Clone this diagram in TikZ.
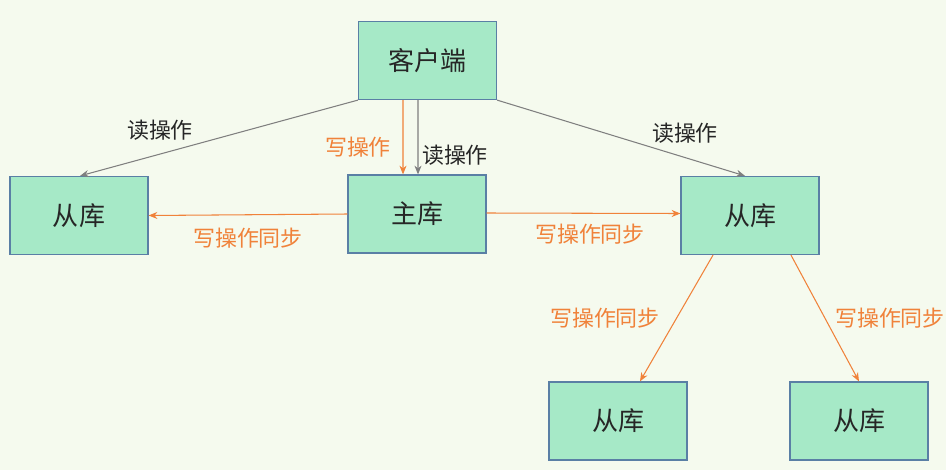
\documentclass[tikz,border=0pt]{standalone}
\usepackage{fontspec}
\setmainfont{Noto Sans CJK SC}
\usetikzlibrary{arrows.meta}
\definecolor{bgcol}{HTML}{F5FAEE}
\definecolor{boxfill}{HTML}{A6E9C7}
\definecolor{boxline}{HTML}{5A7FA5}
\definecolor{syncol}{HTML}{F0823A}
\definecolor{readcol}{HTML}{7F7F7F}
\begin{document}
\begin{tikzpicture}[x=0.02cm,y=-0.02cm,
  db/.style={draw=boxline,fill=boxfill,line width=0.7pt,minimum width=2.76cm,
             minimum height=1.56cm,inner sep=0pt,font=\fontsize{14.8}{16}\selectfont,
             text=black!85},
  rd/.style={draw=readcol,line width=0.6pt,-{Stealth[length=5pt,width=4pt]}},
  wr/.style={draw=syncol,line width=0.6pt,-{Stealth[length=5pt,width=4pt]}},
  rdlab/.style={font=\fontsize{12.5}{14}\selectfont,text=black!85},
  wrlab/.style={font=\fontsize{12.5}{14}\selectfont,text=syncol}]
\fill[bgcol] (0,0) rectangle (946,470);
\useasboundingbox (0,0) rectangle (946,470);
\node[db] (client) at (427.5,60.5) {客户端};
\node[db] (master) at (417,214) {主库};
\node[db] (slaveL) at (79,215.5) {从库};
\node[db] (slaveR) at (750,215.5) {从库};
\node[db] (slaveRL) at (618,421) {从库};
\node[db] (slaveRR) at (859,421) {从库};
% reads
\draw[rd] (client.south west) -- ([xshift=0.02cm]slaveL.north);
\draw[rd] (client.south east) -- ([xshift=-0.1cm]slaveR.north);
\draw[rd] ([xshift=-0.19cm]client.south) -- ([xshift=0.02cm]master.north);
\draw[wr] ([xshift=-0.49cm]client.south) -- ([xshift=-0.28cm]master.north);
\node[rdlab] (rdL) at (160,130) {读操作};
\node[rdlab] (rdR) at (685,133) {读操作};
\node[rdlab] (rdM) at (455,155) {读操作};
\node[wrlab] (wrM) at (358,147) {写操作};
% write sync
\draw[wr] (master.west) -- (slaveL.east);
\draw[wr] ([yshift=0.02cm]master.east) -- ([yshift=0.04cm]slaveR.west);
\draw[wr] ([xshift=-0.74cm]slaveR.south) -- ([xshift=0.44cm]slaveRL.north);
\draw[wr] ([xshift=0.82cm]slaveR.south) -- (slaveRR.north);
\node[wrlab] (syL) at (248,238) {写操作同步};
\node[wrlab] (syR) at (590,234) {写操作同步};
\node[wrlab] (syRL) at (605,318) {写操作同步};
\node[wrlab] (syRR) at (890,318) {写操作同步};
\end{tikzpicture}
\end{document}
